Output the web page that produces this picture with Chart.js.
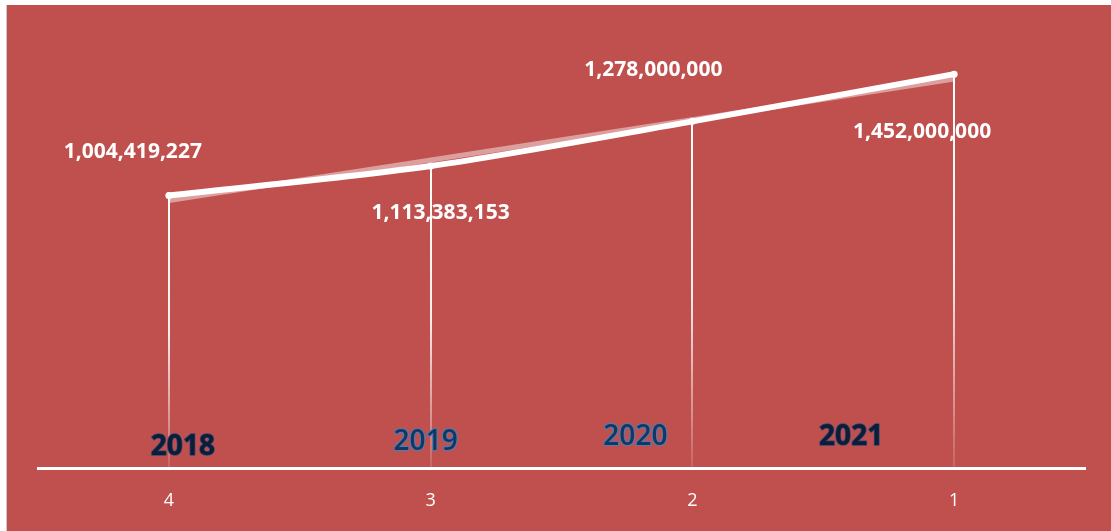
<!DOCTYPE html>
<html>
<head>
<meta charset="utf-8">
<script src="https://cdn.jsdelivr.net/npm/chart.js@4/dist/chart.umd.min.js"></script>
<style>
  html, body { margin: 0; padding: 0; background: #ffffff; }
  canvas { display: block; }
</style>
</head>
<body>
<canvas id="c" width="1111" height="531"></canvas>
<script>
// Category ticks, year captions and yearly totals
const tickLabels = ['4', '3', '2', '1'];
const years = ['2018', '2019', '2020', '2021'];
const totals = [1004419227, 1113383153, 1278000000, 1452000000];
// Faint straight guide between the first and last totals
const guide = [1004419227, null, null, 1452000000];

// Label placement relative to each point (pixels)
const valueLabelOffsets = [[-36, -44], [10, 47], [-39, -51], [-32, 58]];
const yearLabelOffsets = [[14, -21], [-5, -26], [-57, -31], [-103, -31]];
const yearStyles = [
  { fill: '#0e1c36', stroke: '#2b4a7a', weight: 'bold', width: 1.5 },
  { fill: '#17365d', stroke: '#4a7ebb', weight: '600', width: 2.2 },
  { fill: '#17365d', stroke: '#4a7ebb', weight: '600', width: 2.2 },
  { fill: '#0e1c36', stroke: '#2b4a7a', weight: 'bold', width: 1.5 }
];

const RED = '#c0504d';
const fmt = v => v.toLocaleString('en-US');

const backdrop = {
  id: 'backdrop',
  beforeDraw(chart) {
    const ctx = chart.ctx;
    ctx.save();
    ctx.fillStyle = '#ffffff';
    ctx.fillRect(0, 0, chart.width, chart.height);
    ctx.fillStyle = RED;
    ctx.fillRect(7, 5, chart.width - 7, chart.height - 5);
    ctx.strokeStyle = 'rgba(190,190,190,0.8)';
    ctx.lineWidth = 1;
    ctx.beginPath();
    ctx.moveTo(6.5, 5);
    ctx.lineTo(6.5, chart.height);
    ctx.stroke();
    ctx.restore();
  }
};

// Vertical drop lines from each point to the axis, fading downward
const dropLines = {
  id: 'dropLines',
  beforeDatasetsDraw(chart) {
    const ctx = chart.ctx;
    const meta = chart.getDatasetMeta(0);
    const bottom = chart.chartArea.bottom;
    ctx.save();
    meta.data.forEach(pt => {
      const g = ctx.createLinearGradient(0, pt.y, 0, bottom);
      g.addColorStop(0, 'rgba(255,255,255,1)');
      g.addColorStop(0.5, 'rgba(255,255,255,0.9)');
      g.addColorStop(1, 'rgba(255,255,255,0.12)');
      ctx.strokeStyle = g;
      ctx.lineWidth = 2;
      ctx.beginPath();
      ctx.moveTo(Math.round(pt.x), pt.y);
      ctx.lineTo(Math.round(pt.x), bottom);
      ctx.stroke();
    });
    ctx.restore();
  },
  // the guide line sits a little below the main line
  beforeDatasetDraw(chart, args) {
    if (args.index === 1) {
      chart.ctx.save();
      chart.ctx.translate(0, 5);
    }
  },
  afterDatasetDraw(chart, args) {
    if (args.index === 1) chart.ctx.restore();
  }
};

const textLabels = {
  id: 'textLabels',
  afterDatasetsDraw(chart) {
    const ctx = chart.ctx;
    const meta = chart.getDatasetMeta(0);
    ctx.save();
    ctx.textAlign = 'center';
    ctx.textBaseline = 'middle';
    // value labels
    ctx.font = 'bold 21px "Open Sans"';
    ctx.fillStyle = '#ffffff';
    meta.data.forEach((pt, i) => {
      const [dx, dy] = valueLabelOffsets[i];
      ctx.fillText(fmt(totals[i]), pt.x + dx, pt.y + dy);
    });
    // year captions above the axis
    const xs = chart.scales.x;
    const base = chart.chartArea.bottom;
    years.forEach((y, i) => {
      const st = yearStyles[i];
      const [dx, dy] = yearLabelOffsets[i];
      const x = xs.getPixelForValue(i) + dx;
      const yy = base + dy;
      ctx.font = st.weight + ' 28px "Open Sans"';
      ctx.lineJoin = 'round';
      ctx.lineWidth = st.width;
      ctx.strokeStyle = st.stroke;
      ctx.strokeText(y, x, yy);
      ctx.fillStyle = st.fill;
      ctx.fillText(y, x, yy);
    });
    ctx.restore();
  }
};

new Chart(document.getElementById('c'), {
  type: 'line',
  data: {
    labels: tickLabels,
    datasets: [
      {
        data: totals,
        borderColor: '#ffffff',
        borderWidth: 6,
        tension: 0.3,
        borderCapStyle: 'round',
        pointRadius: 3.5,
        pointBackgroundColor: '#ffffff',
        pointBorderWidth: 0,
        fill: false
      },
      {
        data: guide,
        spanGaps: true,
        borderColor: 'rgba(255,255,255,0.45)',
        borderWidth: 5,
        tension: 0,
        pointRadius: 0,
        fill: false
      }
    ]
  },
  options: {
    responsive: false,
    animation: false,
    devicePixelRatio: 1,
    layout: { padding: { left: 38, right: 26, top: 34, bottom: 0 } },
    plugins: { legend: { display: false }, tooltip: { enabled: false } },
    scales: {
      x: {
        offset: true,
        grid: { display: false, drawTicks: false },
        border: { display: true, color: '#ffffff', width: 3 },
        ticks: { color: '#ffffff', font: { family: '"Open Sans"', size: 18 }, padding: 22 },
        afterFit(scale) { scale.height = 63; }
      },
      y: {
        display: false,
        min: 0,
        max: 1600000000
      }
    }
  },
  plugins: [backdrop, dropLines, textLabels]
});
</script>
</body>
</html>
